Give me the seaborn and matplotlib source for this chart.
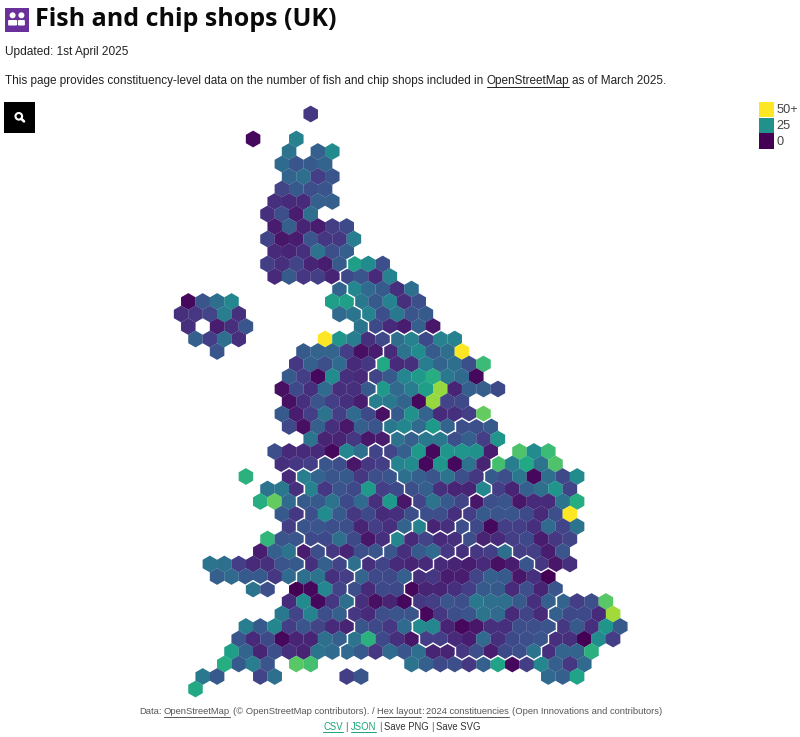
import matplotlib
matplotlib.use("Agg")
import matplotlib.pyplot as plt
import pandas as pd
import seaborn as sns
from matplotlib.collections import LineCollection
from matplotlib.patches import Circle, Rectangle, FancyBboxPatch

_ = None

# -----------------------------
# Data: shops per hex, row by row of the hex layout
# -----------------------------
gb_first_col = [10, _, 6, 8, 8, 8, 8, 7, 7, 7, 7, 7, 7, 7, 12, 11, 12, 13, 11, 9, 9, 8, 8, 8, 8, 8,
                10, 7, 8, 5, 7, 6, 8, 8, 7, 6, 3, 3, 6, 8, 8, 5, 5, 4, 4, 2, 2]
gb_shops = [
    [8],
    [],
    [1, _, _, 22],
    [19, _, 15, 24],
    [17, 13, 14, 16],
    [16, 18, 9, 13],
    [10, 14, 12, 13],
    [7, 6, 6, 15, 15],
    [7, 12, 4, 18],
    [4, 15, 5, 4, 9, 11],
    [10, 3, 4, 13, 8, 8, 21],
    [6, 5, 7, 19, 12, 15],
    [9, 7, 10, 5, 4, 14, 28, 24, 12],
    [6, 14, 8, 9, 5, 11, 13, 6, 22],
    [16, 23, 17, 14, 7, 18],
    [28, 28, 20, 14, 22, 7, 12],
    [17, 19, 22, 12, 20, 13, 14],
    [19, 11, 6, 4, 15, 3],
    [50, 26, 21, 7, 11, 18, 22, 11, 22, 22],
    [14, 16, 16, 9, 2, 4, 6, 19, 24, 14, 18, 50],
    [8, 15, 12, 17, 6, 8, 30, 6, 7, 21, 16, 18, 12, 34],
    [14, 9, 1, 24, 7, 6, 10, 14, 23, 27, 31, 20, 17, 1],
    [2, 11, 7, 17, 7, 7, 14, 27, 17, 21, 28, 42, 5, 15, 15, 11],
    [2, 7, 13, 9, 7, 4, 21, 20, 16, 1, 42, 10, 11],
    [14, 4, 9, 19, 9, 17, 11, 2, 14, 25, 16, 6, 7, 9, 38],
    [11, 2, 15, 7, 3, 15, 13, 20, 23, 17, 27, 16, 12, 12, 14],
    [19, 5, 5, 8, 3, 4, 19, 15, 20, 20, 12, 15, 9, 26],
    [12, 6, 6, 6, 1, 23, 18, 10, 10, 15, 27, 1, 26, 26, 25, 4, _, 36, 24, 34],
    [7, 8, 9, 13, 12, 3, 8, 9, 22, 24, 1, 26, 1, 19, 5, 35, 21, 30, 19, 36],
    [32, _, _, 6, 21, 16, 13, 14, 8, 12, 13, 18, 15, 13, 19, 12, 8, 14, 12, 20, 1, 18, 11, 24],
    [19, 20, 7, 22, 8, 13, 11, 27, 9, 11, 12, 15, 7, 5, 5, 23, 9, 5, 15, 18, 26, 10],
    [31, 38, 17, 14, 14, 19, 11, 17, 7, 27, 3, 10, 19, 14, 10, 3, 12, 13, 3, 6, 6, 19, 31],
    [14, 8, 12, 24, 14, 8, 11, 6, 7, 12, 12, 12, 7, 9, 14, 13, 13, 11, 6, 12, 50],
    [9, 13, 13, 12, 12, 5, 9, 7, 16, 22, 5, 7, 12, 11, 1, 9, 9, 7, 17, 10, 19],
    [33, 13, 13, 11, 11, 18, 11, 3, 7, 23, 6, 10, 6, 7, 12, 5, 6, 9, 11, 4, 8, 10],
    [4, 15, 19, 4, 12, 8, 5, 12, 13, 13, 7, 14, 17, 8, 7, 8, 9, 18, 9, 9, 4, 13],
    [19, 18, 9, 6, 7, 13, 14, 7, 15, 10, 18, 7, 10, 6, 5, 6, 6, 5, 4, 6, 2, 4, 13, 8, 3, 7],
    [15, 17, 14, 14, 8, 17, 18, 19, 7, 9, 16, 11, 11, 15, 7, 8, 4, 4, 10, 15, 14, 3, 7, 0],
    [19, 12, _, 0, 1, 23, 10, 12, 6, 11, 11, 1, 5, 5, 7, 9, 14, 14, 6, 12, 5, 13],
    [6, 24, 1, 8, 18, 7, 2, 5, 1, 8, 9, 13, 12, 20, 18, 18, 14, 7, 15, 16, 9, 12, 37],
    [20, 10, 22, 12, 15, 8, 6, 12, 13, 13, 1, 8, 12, 13, 19, 17, 6, 10, 6, 15, 11, 11, 6, 43],
    [21, 14, 23, 9, 13, 10, 6, 5, 13, 11, 8, 17, 24, 23, 5, 1, 3, 7, 7, 12, 12, 13, 8, 14, 7, 26, 14],
    [13, 6, 11, 1, 5, 5, 18, 15, 19, 32, 11, 7, 3, 9, 9, 6, 4, 17, 7, 11, 12, 13, 7, 7, 0, 24, 9],
    [28, 16, 5, 12, 7, 5, 19, 17, 17, 14, 8, 17, 13, 18, 5, 5, 8, 12, 4, 11, 12, 19, 7, 16, 16, 32],
    [31, 14, 21, 13, _, 37, 35, _, _, _, _, _, _, 19, 15, 11, 12, 8, 15, 29, 1, 9, 23, 15, 8, 17],
    [20, 14, _, _, 10, 18, _, _, _, _, 9, 13, _, _, _, _, _, _, _, _, _, _, _, _, 17, 15, 29],
    [30],
]

# region code and last column of that region, left to right in each row
gb_regions = (["S99"] * 12) + [
    "S12 N99", "S11 N99", "W12 N99", "W12 N99", "W13 N99", "W13 N99",
    "W15 Y99", "W14 Y99", "W14 Y99", "W13 Y99", "W14 Y99", "W13 Y99", "W15 Y99",
    "W14 Y19 E99", "W15 E99", "W13 M14 E22 A99", "W10 M15 E22 A99",
    "X8 M15 E21 A99", "X9 M16 E22 A99", "X8 M16 E20 A99", "X9 M17 E20 A99",
    "X8 M16 T17 E19 T20 A99", "X9 M15 T20 A99", "X8 O10 M14 T19 A20 L23 A99",
    "X9 O12 M13 T18 L25 A99", "X8 O12 T16 L26", "O12 T16 L27", "O12 T16 L26 T99",
    "O12 T17 L26 T99", "O12 T16 L26 T99", "O12 T17 L26 T99", "O11 T19 L25 T99",
    "O10 T99", "O7 T99", "O99",
]

ni_row = [15, 16, 17, 18, 19]
ni_first_col = [1, 1, 1, 2, 3]
ni_shops = [[1, 13, 18, 23], [7, 8, 10, 21, 7], [7, _, 4, 7, 13], [15, 9, 18, 7], [13]]

legend_values = [50, 25, 0]
legend_labels = ["50+", "25", "0"]

# grid of the layout in pixels
X0, Y0, DX, DY = 166.7, 114.0, 14.4, 12.5
HEX_R = 8.33


def hex_xy(row, col):
    return X0 + DX * col + (DX / 2 if row % 2 else 0), Y0 + DY * row


def region_for(spec, col):
    for part in spec.split():
        if col <= int(part[1:]):
            return part[0]
    return spec.split()[-1][0]


records = []
for row, (first, vals) in enumerate(zip(gb_first_col, gb_shops)):
    for i, v in enumerate(vals):
        if v is not None:
            records.append((row, first + i, v, region_for(gb_regions[row], first + i)))
for row, first, vals in zip(ni_row, ni_first_col, ni_shops):
    for i, v in enumerate(vals):
        if v is not None:
            records.append((row, first + i, v, "I"))

df = pd.DataFrame(records, columns=["row", "col", "shops", "region"])
df["x"] = [hex_xy(r, c)[0] for r, c in zip(df["row"], df["col"])]
df["y"] = [hex_xy(r, c)[1] for r, c in zip(df["row"], df["col"])]

sns.set_theme(style="white")
plt.rcParams["font.family"] = ["Liberation Sans", "DejaVu Sans"]

fig = plt.figure(figsize=(8, 7.37), dpi=100)
ax = fig.add_axes([0, 0, 1, 1])

sns.scatterplot(
    data=df, x="x", y="y", hue="shops", palette="viridis", hue_norm=(0, 50),
    marker="h", s=146, linewidth=0, legend=False, ax=ax, zorder=2,
)
ax.set_xlim(0, 800)
ax.set_ylim(737, 0)
ax.axis("off")

# white lines where neighbouring hexes fall in different regions
lookup = {(r, c): g for r, c, g in zip(df["row"], df["col"], df["region"])}
segments = []
for (r, c), g in lookup.items():
    shift = 0 if r % 2 else -1
    for nb in [(r, c + 1), (r + 1, c + shift), (r + 1, c + shift + 1)]:
        if nb in lookup and lookup[nb] != g:
            x1, y1 = hex_xy(r, c)
            x2, y2 = hex_xy(*nb)
            mx, my = (x1 + x2) / 2, (y1 + y2) / 2
            dx, dy = (x2 - x1) / DX, (y2 - y1) / DX
            half = HEX_R / 2
            segments.append([(mx - dy * half, my + dx * half), (mx + dy * half, my - dx * half)])
ax.add_collection(LineCollection(segments, colors="white", linewidths=1.0, capstyle="round", zorder=3))

# legend
cmap = sns.color_palette("viridis", as_cmap=True)
for i, (val, lab) in enumerate(zip(legend_values, legend_labels)):
    ax.add_patch(Rectangle((758.5, 102 + 15.7 * i), 15.5, 15.2, color=cmap(val / 50), lw=0, zorder=2))
    ax.text(776.5, 110 + 15.9 * i, lab, fontsize=9.2, color="#444444", va="center")

# header
ax.add_patch(Rectangle((5, 8), 24, 23.5, color="#69309b", lw=0))
for cx, wid in [(12.6, 9), (21.4, 7)]:
    ax.add_patch(Circle((cx, 15.3), 3.0, color="white", lw=0))
    ax.add_patch(FancyBboxPatch((cx - wid / 2 + 1, 21), wid - 2, 3.5, boxstyle="round,pad=1", color="white", lw=0))
ax.text(35, 19, "Fish and chip shops (UK)", fontsize=18, fontweight="bold",
        family=["Open Sans", "DejaVu Sans"], color="#0a0a0a", va="center")
ax.text(5, 52, "Updated: 1st April 2025", fontsize=8.55, color="#222222", va="center")

# search button
ax.add_patch(Rectangle((4, 102), 31, 31, color="black", lw=0))
ax.add_patch(Circle((18.8, 116.3), 3.3, fill=False, ec="white", lw=1.5))
ax.plot([21.3, 24], [118.8, 121.4], color="white", lw=1.9, solid_capstyle="round")


def text_runs(y, runs, size, left=None, center=None):
    # runs are (text, colour, underlined); laid out one after the other
    r = fig.canvas.get_renderer()
    items = [ax.text(0, y, t, fontsize=size, color=col, va="center") for t, col, _u in runs]
    widths = [it.get_window_extent(r).width for it in items]
    probe = ax.text(0, y, "a a", fontsize=size)
    gap = probe.get_window_extent(r).width
    probe.set_text("aa")
    gap -= probe.get_window_extent(r).width
    probe.remove()
    gaps = [0 if t[0] == ":" else gap for t, _c, _u in runs[1:]] + [0]
    total = sum(widths) + sum(gaps)
    x = left if left is not None else center - total / 2
    for it, w, g, (t, col, under) in zip(items, widths, gaps, runs):
        it.set_x(x)
        if under:
            ax.plot([x, x + w], [y + size * 0.72, y + size * 0.72], color=col, lw=0.7)
        x += w + g


BODY = "#222222"
text_runs(81, [
    ("This page provides constituency-level data on the number of fish and chip shops included in", BODY, False),
    ("OpenStreetMap", BODY, True),
    ("as of March 2025.", BODY, False),
], 8.47, left=5)

GREY = "#555555"
GREEN = "#1aa37a"
text_runs(712, [
    ("Data:", GREY, False), ("OpenStreetMap", GREY, True),
    ("(© OpenStreetMap contributors). /", GREY, False), ("Hex layout", GREY, True), (":", GREY, False),
    ("2024 constituencies", GREY, True), ("(Open Innovations and contributors)", GREY, False),
], 6.75, center=400.5)
text_runs(727, [
    ("CSV", GREEN, True), ("|", GREY, False), ("JSON", GREEN, True), ("|", GREY, False),
    ("Save PNG", "#333333", False), ("|", GREY, False), ("Save SVG", "#333333", False),
], 6.85, center=402)

fig.savefig("out.png", dpi=100)
